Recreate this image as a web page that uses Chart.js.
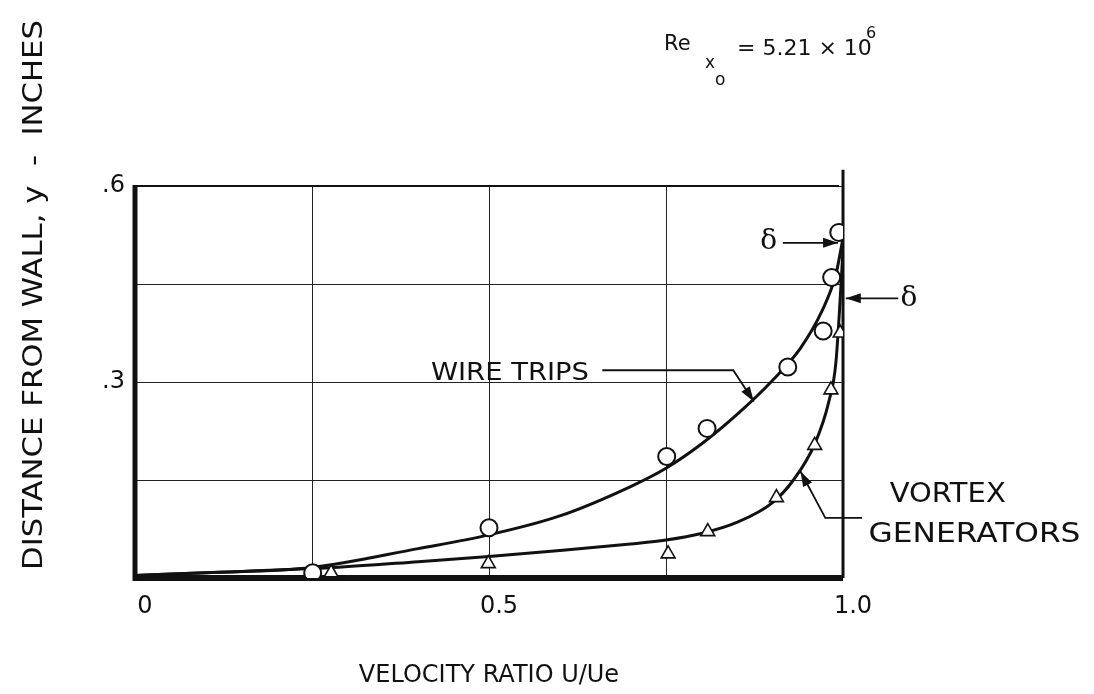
<!DOCTYPE html>
<html>
<head>
<meta charset="utf-8">
<title>Velocity profile</title>
<script src="https://cdn.jsdelivr.net/npm/chart.js@4.4.1/dist/chart.umd.min.js"></script>
<style>
  html, body { margin: 0; padding: 0; background: #fff; }
  #canvas-1 { display: block; }
</style>
</head>
<body>
<canvas id="canvas-1" width="1094" height="694"></canvas>
<script>
(function () {
    'use strict';

    var wireU = [0.251, 0.500, 0.751, 0.808, 0.922, 0.972, 0.984, 0.994];
    var wireY = [0.008, 0.077, 0.186, 0.229, 0.323, 0.378, 0.460, 0.529];
    var vortexU = [0.277, 0.499, 0.753, 0.809, 0.906, 0.960, 0.983, 0.996];
    var vortexY = [0.008, 0.022, 0.037, 0.071, 0.123, 0.203, 0.288, 0.375];

    // faired curves
    var wireCurveU = [0, 0.10, 0.25, 0.40, 0.50, 0.60, 0.70, 0.75, 0.80, 0.85, 0.90, 0.94, 0.97, 0.99, 1.0];
    var wireCurveY = [0.004, 0.008, 0.016, 0.045, 0.066, 0.095, 0.140, 0.168, 0.205, 0.250, 0.302, 0.352, 0.408, 0.465, 0.520];
    var vortexCurveU = [0, 0.10, 0.28, 0.40, 0.50, 0.60, 0.70, 0.75, 0.80, 0.85, 0.90, 0.93, 0.96, 0.98, 0.99, 1.0];
    var vortexCurveY = [0.004, 0.008, 0.016, 0.025, 0.033, 0.042, 0.052, 0.058, 0.068, 0.085, 0.115, 0.150, 0.205, 0.270, 0.330, 0.500];

    // tick labels
    var xTickLabels = { '0': '0', '0.5': '0.5', '1': '1.0' };
    var yTickLabels = { '0.3': '.3', '0.6': '.6' };

    var ink = '#111';
    var fontName = '"DejaVu Sans", sans-serif';

    var toXY = function (us, ys) {
        var out = [];
        for (var i = 0; i < us.length; i++) {
            out.push({ x: us[i], y: ys[i] });
        }
        return out;
    };

    // lettering in the original is wide, so stretch text to a given width
    var wideText = function (c, text, x, y, width) {
        var w = c.measureText(text).width;
        c.save();
        c.translate(x, y);
        c.scale(width / w, 1);
        c.fillText(text, 0, 0);
        c.restore();
    };

    // thick axis lines like the original drawing (under the symbols)
    var frame = {
        id: 'frame',
        beforeDatasetsDraw: function (chart) {
            var c = chart.ctx, xs = chart.scales.x, ys = chart.scales.y;
            var x0 = xs.getPixelForValue(0), x1 = xs.getPixelForValue(1);
            var y0 = ys.getPixelForValue(0), y6 = ys.getPixelForValue(0.6);
            c.save();
            c.strokeStyle = ink;
            c.lineCap = 'butt';
            // top
            c.lineWidth = 2;
            c.beginPath(); c.moveTo(x0, y6); c.lineTo(x1 - 4, y6); c.stroke();
            // right, runs past the top
            c.lineWidth = 3;
            c.beginPath(); c.moveTo(x1, y0); c.lineTo(x1, ys.getPixelForValue(0.625)); c.stroke();
            // left
            c.lineWidth = 5;
            c.beginPath(); c.moveTo(x0, y0 + 3); c.lineTo(x0, y6 - 1); c.stroke();
            // bottom
            c.lineWidth = 6;
            c.beginPath(); c.moveTo(x0 - 2, y0); c.lineTo(x1, y0); c.stroke();
            c.restore();
        }
    };

    var arrowHead = function (c, fx, fy, tx, ty) {
        var a = Math.atan2(ty - fy, tx - fx);
        var len = 15, w = 5;
        c.beginPath();
        c.moveTo(tx, ty);
        c.lineTo(tx - len * Math.cos(a) + w * Math.sin(a), ty - len * Math.sin(a) - w * Math.cos(a));
        c.lineTo(tx - len * Math.cos(a) - w * Math.sin(a), ty - len * Math.sin(a) + w * Math.cos(a));
        c.closePath();
        c.fill();
    };

    var leader = function (c, pts) {
        c.beginPath();
        c.moveTo(pts[0][0], pts[0][1]);
        for (var i = 1; i < pts.length; i++) c.lineTo(pts[i][0], pts[i][1]);
        c.stroke();
        var n = pts.length;
        arrowHead(c, pts[n - 2][0], pts[n - 2][1], pts[n - 1][0], pts[n - 1][1]);
    };

    var notes = {
        id: 'notes',
        afterDatasetsDraw: function (chart) {
            var c = chart.ctx, xs = chart.scales.x, ys = chart.scales.y;
            var px = function (u) { return xs.getPixelForValue(u); };
            var py = function (v) { return ys.getPixelForValue(v); };
            c.save();
            c.fillStyle = ink;
            c.strokeStyle = ink;
            c.lineWidth = 1.8;
            c.textBaseline = 'middle';
            c.textAlign = 'left';

            // WIRE TRIPS
            c.font = '25px ' + fontName;
            wideText(c, 'WIRE TRIPS', px(0.418), py(0.313), 158);
            leader(c, [[px(0.660), py(0.318)], [px(0.845), py(0.318)], [px(0.874), py(0.270)]]);

            // VORTEX GENERATORS
            c.font = '26px ' + fontName;
            wideText(c, 'VORTEX', px(1.066), py(0.126), 116);
            wideText(c, 'GENERATORS', px(1.036), py(0.066), 212);
            leader(c, [[px(1.027), py(0.092)], [px(0.975), py(0.092)], [px(0.940), py(0.163)]]);

            // delta marks
            c.font = '28px "DejaVu Serif", serif';
            c.textAlign = 'center';
            c.fillText('\u03b4', px(0.895), py(0.515));
            leader(c, [[px(0.915), py(0.513)], [px(0.993), py(0.513)]]);
            c.fillText('\u03b4', px(1.093), py(0.427));
            leader(c, [[px(1.078), py(0.428)], [px(1.004), py(0.428)]]);

            c.restore();
        }
    };

    var labels = {
        id: 'labels',
        afterDraw: function (chart) {
            var c = chart.ctx;
            c.save();
            c.fillStyle = ink;
            c.textBaseline = 'middle';
            c.textAlign = 'left';
            // y title, not centred on the plot in the original
            c.translate(35, 570);
            c.rotate(-Math.PI / 2);
            c.font = '27px ' + fontName;
            wideText(c, 'DISTANCE FROM WALL, y  -  INCHES', 0, 0, 550);
            c.restore();

            // Reynolds number note
            c.save();
            c.fillStyle = ink;
            c.textBaseline = 'alphabetic';
            c.textAlign = 'left';
            c.font = '21px ' + fontName;
            c.fillText('Re', 664, 50);
            c.font = '17px ' + fontName;
            c.fillText('x', 705, 68);
            c.fillText('o', 715, 85);
            c.font = '22px ' + fontName;
            c.fillText('= 5.21 \u00d7 10', 737, 55);
            c.font = '16px ' + fontName;
            c.fillText('6', 866, 38);
            c.restore();
        }
    };

    var ctx = document.getElementById('canvas-1');
    var chart = new Chart(ctx, {
        type: 'scatter',
        data: {
            datasets: [
                {
                    label: 'Wire trips',
                    data: toXY(wireU, wireY),
                    pointStyle: 'circle',
                    pointRadius: 8.5,
                    pointBackgroundColor: '#fff',
                    pointBorderColor: ink,
                    pointBorderWidth: 2,
                    showLine: false,
                    order: 1
                },
                {
                    label: 'Vortex generators',
                    data: toXY(vortexU, vortexY),
                    pointStyle: 'triangle',
                    pointRadius: 8,
                    pointBackgroundColor: '#fff',
                    pointBorderColor: ink,
                    pointBorderWidth: 1.6,
                    showLine: false,
                    order: 1
                },
                {
                    label: 'Wire trips curve',
                    data: toXY(wireCurveU, wireCurveY),
                    showLine: true,
                    pointRadius: 0,
                    borderColor: ink,
                    borderWidth: 3,
                    cubicInterpolationMode: 'monotone',
                    order: 2
                },
                {
                    label: 'Vortex curve',
                    data: toXY(vortexCurveU, vortexCurveY),
                    showLine: true,
                    pointRadius: 0,
                    borderColor: ink,
                    borderWidth: 3,
                    cubicInterpolationMode: 'monotone',
                    order: 2
                }
            ]
        },
        options: {
            responsive: false,
            animation: false,
            devicePixelRatio: 1,
            layout: { padding: { top: 186, right: 251, left: 0, bottom: 0 } },
            plugins: {
                legend: { display: false },
                tooltip: { enabled: false },
                title: { display: false }
            },
            scales: {
                x: {
                    type: 'linear',
                    min: 0,
                    max: 1,
                    afterFit: function (s) { s.height = 116; },
                    border: { display: false },
                    grid: { color: '#222', lineWidth: 1, drawTicks: false },
                    ticks: {
                        stepSize: 0.25,
                        padding: 14,
                        labelOffset: 10,
                        color: ink,
                        font: { family: fontName, size: 24 },
                        callback: function (v) {
                            var k = String(Math.round(v * 100) / 100);
                            return xTickLabels[k] || '';
                        }
                    },
                    title: {
                        display: true,
                        text: 'VELOCITY RATIO U/Ue',
                        color: ink,
                        font: { family: fontName, size: 24 },
                        padding: { top: 38 }
                    }
                },
                y: {
                    type: 'linear',
                    min: 0,
                    max: 0.6,
                    afterFit: function (s) { s.width = 135; },
                    border: { display: false },
                    grid: { color: '#222', lineWidth: 1, drawTicks: false },
                    ticks: {
                        stepSize: 0.15,
                        padding: 10,
                        color: ink,
                        font: { family: fontName, size: 24 },
                        callback: function (v) {
                            var k = String(Math.round(v * 100) / 100);
                            return yTickLabels[k] || '';
                        }
                    }
                }
            }
        },
        plugins: [frame, notes, labels]
    });
})();
</script>
</body>
</html>
